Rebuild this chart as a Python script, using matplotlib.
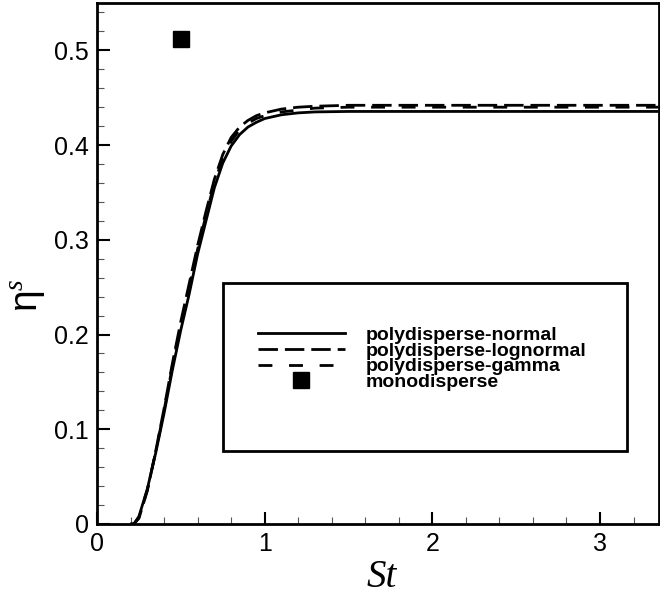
import numpy as np
import matplotlib
matplotlib.use("Agg")
import matplotlib.pyplot as plt
from matplotlib.patches import Rectangle
from matplotlib.lines import Line2D

plt.rcParams["font.family"] = ["Liberation Sans", "DejaVu Sans"]
plt.rcParams["mathtext.fontset"] = "custom"
plt.rcParams["mathtext.rm"] = "Liberation Sans"
plt.rcParams["mathtext.it"] = "Liberation Serif:italic"

# collection efficiency vs Stokes number
st = [0.20, 0.22, 0.25, 0.30, 0.35, 0.40, 0.45, 0.50, 0.55, 0.60, 0.65, 0.70, 0.75,
      0.80, 0.85, 0.90, 0.95, 1.00, 1.10, 1.20, 1.30, 1.50, 2.00, 2.50, 3.00, 3.35]
eta_normal = [0.0, 0.0, 0.008, 0.037, 0.075, 0.117, 0.163, 0.205, 0.243, 0.285, 0.320,
              0.355, 0.381, 0.399, 0.411, 0.419, 0.424, 0.428, 0.432, 0.434, 0.435,
              0.4355, 0.4355, 0.4355, 0.4355, 0.4355]
eta_lognormal = [0.0, 0.0, 0.006, 0.035, 0.077, 0.122, 0.170, 0.214, 0.254, 0.294, 0.330,
                 0.364, 0.390, 0.408, 0.419, 0.426, 0.431, 0.434, 0.438, 0.440, 0.441,
                 0.442, 0.442, 0.442, 0.442, 0.442]
eta_gamma = [0.0, 0.0, 0.007, 0.036, 0.076, 0.120, 0.167, 0.210, 0.250, 0.290, 0.326,
             0.360, 0.386, 0.404, 0.416, 0.423, 0.428, 0.431, 0.435, 0.437, 0.439,
             0.440, 0.440, 0.440, 0.440, 0.440]
mono_st = [0.5]
mono_eta = [0.5125]

fig = plt.figure(figsize=(6.6, 5.97), dpi=100)
ax = fig.add_axes([0.147, 0.1223, 0.851, 0.8727])

ax.plot(st, eta_normal, color="k", lw=2, solid_capstyle="butt")
ax.plot(st, eta_lognormal, color="k", lw=2, dashes=(7, 2.5), dash_capstyle="butt")
ax.plot(st, eta_gamma, color="k", lw=2, dashes=(5, 6), dash_capstyle="butt")
ax.plot(mono_st, mono_eta, "s", color="k", ms=12, clip_on=False)

ax.set_xlim(0, 3.35)
ax.set_ylim(0, 0.55)
ax.set_xticks([0, 1, 2, 3])
ax.set_xticks(np.arange(0, 3.35, 0.2), minor=True)
ax.set_yticks([0, 0.1, 0.2, 0.3, 0.4, 0.5])
ax.set_yticks(np.arange(0, 0.55, 0.02), minor=True)
ax.set_xticklabels(["0", "1", "2", "3"])
ax.set_yticklabels(["0", "0.1", "0.2", "0.3", "0.4", "0.5"])
ax.tick_params(which="both", direction="in", top=False, right=False, labelsize=18)
ax.tick_params(which="major", length=9, width=1.5, pad=6)
ax.tick_params(which="minor", length=5, width=0.8, color="#555555")
for sp in ax.spines.values():
    sp.set_linewidth(2)

ax.set_xlabel("St", fontsize=28, family="Liberation Serif", style="italic")
ax.xaxis.set_label_coords(0.506, -0.068)
ax.set_ylabel(r"η$^{s}$", fontsize=28)
ax.yaxis.set_label_coords(-0.088, 0.44)

# legend box
ax.add_patch(Rectangle((0.224, 0.140), 0.719, 0.3226, transform=ax.transAxes,
                       fill=False, lw=2, color="k", zorder=5))
handles = [
    Line2D([], [], color="k", lw=2),
    Line2D([], [], color="k", lw=2, dashes=(7, 2.5)),
    Line2D([], [], color="k", lw=2, dashes=(5, 6)),
    Line2D([], [], color="k", ls="none", marker="s", ms=12),
]
labels = ["polydisperse-normal", "polydisperse-lognormal", "polydisperse-gamma", "monodisperse"]
ax.legend(handles, labels, loc="upper left", bbox_to_anchor=(0.286, 0.379),
          frameon=False, borderpad=0, borderaxespad=0, handlelength=4.5,
          handletextpad=1.05, labelspacing=-0.1, prop={"weight": "bold", "size": 14})

fig.savefig("out.png", dpi=100)
